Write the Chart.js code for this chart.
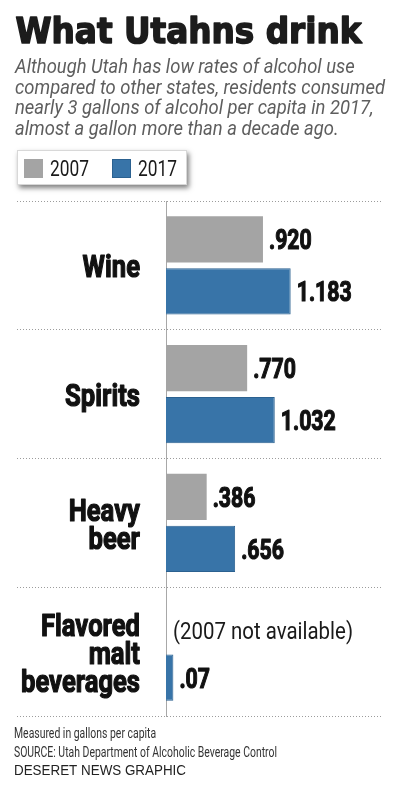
<!DOCTYPE html>
<html>
<head>
<meta charset="utf-8">
<title>What Utahns drink</title>
<script src="https://cdn.jsdelivr.net/npm/chart.js@4.4.1/dist/chart.umd.min.js"></script>
<style>
  html, body { margin: 0; padding: 0; background: #fff; }
  #wrap { width: 400px; height: 786px; }
</style>
</head>
<body>
<div id="wrap"><canvas id="drinks" width="400" height="786"></canvas></div>
<script>
// data (gallons per capita)
const categories = [['Wine'], ['Spirits'], ['Heavy', 'beer'], ['Flavored', 'malt', 'beverages']];
const values2007 = [0.920, 0.770, 0.386, null];
const values2017 = [1.183, 1.032, 0.656, 0.07];
const labels2007 = ['.920', '.770', '.386', '(2007 not available)'];
const labels2017 = ['1.183', '1.032', '.656', '.07'];
const seriesNames = ['2007', '2017'];

const titleText = 'What Utahns drink';
const subtitleLines = [
  'Although Utah has low rates of alcohol use',
  'compared to other states, residents consumed',
  'nearly 3 gallons of alcohol per capita in 2017,',
  'almost a gallon more than a decade ago.'
];
const footerLines = [
  'Measured in gallons per capita',
  'SOURCE: Utah Department of Alcoholic Beverage Control'
];
const creditText = 'DESERET NEWS GRAPHIC';

const GRAY = '#a4a4a4';
const BLUE = '#3874a8';
const valueLabels = [labels2007, labels2017];

// horizontal squeeze so the fonts look like the condensed face in the original
function widthOf(ctx, text, font) {
  ctx.save();
  ctx.font = font;
  const w = ctx.measureText(text).width;
  ctx.restore();
  return w;
}
function squeezed(ctx, text, x, y, font, sx, align, color, heavy) {
  ctx.save();
  ctx.font = font;
  ctx.fillStyle = color;
  ctx.textAlign = align;
  ctx.textBaseline = 'alphabetic';
  ctx.translate(x, y);
  ctx.scale(sx, 1);
  ctx.fillText(text, 0, 0);
  if (heavy) {
    // fake a blacker weight than the installed bold
    ctx.strokeStyle = color;
    ctx.lineWidth = heavy;
    ctx.lineJoin = 'round';
    ctx.strokeText(text, 0, 0);
  }
  ctx.restore();
}

const headerFooter = {
  id: 'headerFooter',
  afterDraw(chart) {
    const ctx = chart.ctx;

    const tFont = 'bold 36px "DejaVu Sans"';
    squeezed(ctx, titleText, 15.5, 42.5, tFont, 346 / widthOf(ctx, titleText, tFont), 'left', '#1c1c1c', 1.6);

    const sFont = 'italic 20.5px Roboto';
    const sScale = 370 / widthOf(ctx, subtitleLines[1], sFont);
    subtitleLines.forEach((line, i) => {
      squeezed(ctx, line, 15, 73 + i * 20.7, sFont, sScale, 'left', '#5e5e5e');
    });

    // legend box
    ctx.save();
    ctx.shadowColor = 'rgba(0,0,0,0.5)';
    ctx.shadowBlur = 5;
    ctx.shadowOffsetX = 2;
    ctx.shadowOffsetY = 3;
    ctx.fillStyle = '#fff';
    ctx.fillRect(17, 150, 170, 35);
    ctx.restore();
    ctx.strokeStyle = '#d8d8d8';
    ctx.lineWidth = 1;
    ctx.strokeRect(17.5, 150.5, 169, 34);

    const lFont = 'normal 21.5px Roboto';
    const lScale = 39 / widthOf(ctx, seriesNames[0], lFont);
    const boxX = [24, 112];
    const textX = [50, 138];
    chart.data.datasets.forEach((ds, i) => {
      ctx.fillStyle = ds.backgroundColor;
      ctx.fillRect(boxX[i], 159, 19, 19);
      if (ds.borderWidth) {
        ctx.strokeStyle = ds.borderColor;
        ctx.strokeRect(boxX[i] + 0.5, 159.5, 18, 18);
      }
      squeezed(ctx, ds.label, textX[i], 176, lFont, lScale, 'left', '#1a1a1a');
    });

    const fFont = 'normal 14px Roboto';
    const fScale = 263 / widthOf(ctx, footerLines[1], fFont);
    footerLines.forEach((line, i) => {
      squeezed(ctx, line, 14, 738 + i * 19, fFont, fScale, 'left', '#333');
    });
    const cFont = 'normal 14px "Liberation Sans"';
    squeezed(ctx, creditText, 14, 774.5, cFont, 172 / widthOf(ctx, creditText, cFont), 'left', '#222');
  }
};

const barText = {
  id: 'barText',
  afterDatasetsDraw(chart) {
    const ctx = chart.ctx;
    const area = chart.chartArea;
    const yScale = chart.scales.y;

    // category names, right aligned left of the axis
    const cFont = 'bold 31px Roboto';
    const cScale = 119 / widthOf(ctx, 'beverages', cFont);
    const lh = 28;
    const cap = 22;
    chart.data.labels.forEach((lines, i) => {
      const mid = yScale.getPixelForTick(i);
      const first = mid - ((lines.length - 1) * lh + cap) / 2 + cap + 1;
      lines.forEach((line, j) => {
        squeezed(ctx, line, 140, first + j * lh, cFont, cScale, 'right', '#111', 1.2);
      });
    });

    // values at the end of each bar
    const vFont = 'bold 28px Roboto';
    const vScale = 55 / widthOf(ctx, '1.183', vFont);
    const nFont = 'normal 24.5px Roboto';
    const nScale = 180 / widthOf(ctx, '(2007 not available)', nFont);
    chart.data.datasets.forEach((ds, di) => {
      const meta = chart.getDatasetMeta(di);
      meta.data.forEach((bar, i) => {
        const txt = valueLabels[di][i];
        if (ds.data[i] === null) {
          squeezed(ctx, txt, area.left + 7, bar.y + 13, nFont, nScale, 'left', '#1a1a1a');
        } else {
          squeezed(ctx, txt, bar.x + 6, bar.y + 10, vFont, vScale, 'left', '#111', 1.2);
        }
      });
    });
  }
};

new Chart(document.getElementById('drinks'), {
  type: 'bar',
  data: {
    labels: categories,
    datasets: [
      {
        label: seriesNames[0],
        data: values2007,
        backgroundColor: GRAY,
        borderWidth: 0
      },
      {
        label: seriesNames[1],
        data: values2017,
        backgroundColor: BLUE,
        borderColor: '#2b6190',
        borderWidth: 1
      }
    ]
  },
  options: {
    indexAxis: 'y',
    responsive: false,
    animation: false,
    events: [],
    barPercentage: 0.885,
    categoryPercentage: 0.808,
    layout: { padding: { left: 17, top: 201, right: 19, bottom: 70 } },
    scales: {
      x: { display: false, min: 0, max: 2.04 },
      y: {
        ticks: { display: false },
        grid: {
          color: '#9c9c9c',
          lineWidth: 1,
          drawTicks: true,
          tickLength: 149,
          tickColor: '#9c9c9c',
          tickWidth: 1,
          tickBorderDash: [1, 2]
        },
        border: { display: true, color: '#a8a8a8', width: 1, dash: [1, 2] }
      }
    },
    plugins: {
      legend: { display: false },
      tooltip: { enabled: false }
    }
  },
  plugins: [headerFooter, barText]
});
</script>
</body>
</html>
